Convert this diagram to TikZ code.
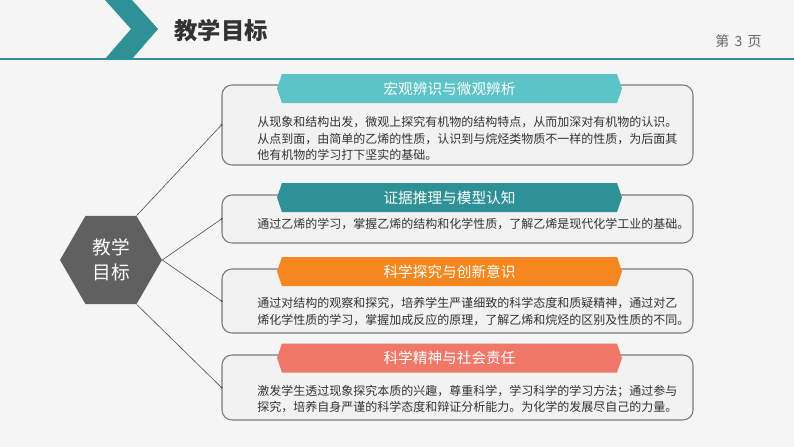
\documentclass[tikz,border=0pt]{standalone}
\usepackage{fontspec}
\setmainfont{Noto Sans CJK SC}
\usetikzlibrary{shapes.geometric}
\definecolor{bgc}{HTML}{F5F5F5}
\definecolor{boxfill}{HTML}{F2F2F2}
\definecolor{boxline}{HTML}{7A7A7A}
\definecolor{tealdark}{HTML}{2E9196}
\definecolor{teallight}{HTML}{5CC3C7}
\definecolor{orangec}{HTML}{F5871F}
\definecolor{salmonc}{HTML}{EF7869}
\definecolor{hexc}{HTML}{606060}
\definecolor{txt}{HTML}{333333}
\definecolor{pagec}{HTML}{666666}
\newcommand\tabshape[4]{%
  \fill[#3] (277,#2) -- (282,{#2-14.5}) -- (617,{#2-14.5}) -- (622,#2) -- (617,{#2+14.5}) -- (282,{#2+14.5}) -- cycle;
  \node[tabtext] (#1) at (449.5,#2) {#4};
}
\tikzset{
  goalbox/.style={draw=boxline, line width=0.8pt, fill=boxfill, rounded corners=7.5pt,
    minimum width=471*0.75pt, inner sep=0pt},
  tabtext/.style={text=white, font=\fontsize{11}{13}\selectfont, inner sep=0pt},
  bodytext/.style={text=txt, font=\fontsize{9}{12.4}\selectfont, align=left, anchor=west, inner sep=0pt},
  conn/.style={draw=black!70, line width=0.45pt},
  conndot/.style={fill=black!70},
}
\begin{document}
\begin{tikzpicture}[x=0.75pt,y=-0.75pt]
\fill[bgc] (0,0) rectangle (794,447);
\useasboundingbox (0,0) rectangle (794,447);
% header
\fill[tealdark] (105,0) -- (132,0) -- (158,29) -- (132,59) -- (105,59) -- (131,29) -- cycle;
\draw[tealdark, line width=1.5pt] (0,59) -- (794,59);
\node[text=txt, font=\fontsize{17.5}{20}\selectfont\bfseries, inner sep=0pt] (title) at (221,31) {教学目标};
\node[text=pagec, font=\fontsize{10.5}{12}\selectfont, inner sep=0pt] (page) at (738.5,41) {第\hspace{4pt}3\hspace{4pt}页};
% hexagon
\node[regular polygon, regular polygon sides=6, fill=hexc, minimum size=102*0.75pt, inner sep=0pt,
  text=white, font=\fontsize{14}{18.75}\selectfont, align=center] (hex) at (111,260) {教学\\目标};
% boxes
\node[goalbox, minimum height=80*0.75pt] (b1) at (457.5,125) {};
\node[goalbox, minimum height=48*0.75pt] (b2) at (457.5,219) {};
\node[goalbox, minimum height=64*0.75pt] (b3) at (457.5,301) {};
\node[goalbox, minimum height=65*0.75pt] (b4) at (457.5,387.5) {};
% tabs
\tabshape{t1}{88.5}{teallight}{宏观辨识与微观辨析}
\tabshape{t2}{197.5}{tealdark}{证据推理与模型认知}
\tabshape{t3}{271.5}{orangec}{科学探究与创新意识}
\tabshape{t4}{358}{salmonc}{科学精神与社会责任}
% texts
\node[bodytext] (x1) at (257,138.5) {从现象和结构出发，微观上探究有机物的结构特点，从而加深对有机物的认识。\\从点到面，由简单的乙烯的性质，认识到与烷烃类物质不一样的性质，为后面其\\他有机物的学习打下坚实的基础。};
\node[bodytext] (x2) at (257,224) {通过乙烯的学习，掌握乙烯的结构和化学性质，了解乙烯是现代化学工业的基础。};
\node[bodytext] (x3) at (257,311.5) {通过对结构的观察和探究，培养学生严谨细致的科学态度和质疑精神，通过对乙\\烯化学性质的学习，掌握加成反应的原理，了解乙烯和烷烃的区别及性质的不同。};
\node[bodytext] (x4) at (257,399) {激发学生透过现象探究本质的兴趣，尊重科学，学习科学的学习方法；通过参与\\探究，培养自身严谨的科学态度和辩证分析能力。为化学的发展尽自己的力量。};
% connectors
\draw[conn] (hex.60) -- (b1.west);
\draw[conn] (hex.0) -- (b2.west);
\draw[conn] (hex.0) -- (b3.west);
\draw[conn] (hex.-60) -- (b4.west);
\foreach \b in {b1,b2,b3,b4} \fill[conndot] (\b.west) circle (1.2);
\end{tikzpicture}
\end{document}
